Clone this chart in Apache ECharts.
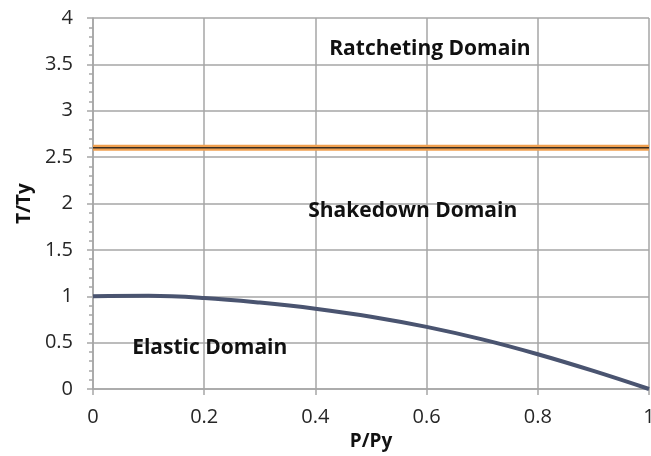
<!DOCTYPE html>
<html>
<head>
<meta charset="utf-8">
<script src="https://cdn.jsdelivr.net/npm/echarts@6/dist/echarts.min.js"></script>
<style>
  html, body { margin: 0; padding: 0; background: #fff; }
  #chart { width: 651px; height: 456px; }
</style>
</head>
<body>
<div id="chart"></div>
<script>
// elastic limit curve
const pValues = [0, 0.1, 0.2, 0.3, 0.4, 0.5, 0.6, 0.7, 0.8, 0.9, 1.0]
const tValues = [1.0, 1.005, 0.982, 0.932, 0.866, 0.78, 0.67, 0.535, 0.375, 0.195, 0.0]
// ratcheting limit
const ratchetX = [0, 1]
const ratchetLevel = 2.6
// domain labels [x, y, text]
const domainLabels = [
  [0.606, 3.67, 'Ratcheting Domain'],
  [0.575, 1.92, 'Shakedown Domain'],
  [0.21, 0.44, 'Elastic Domain']
]

const chart = echarts.init(document.getElementById('chart'))
const gridColor = '#a6a6a6'
const labelFont = { color: '#262626', fontSize: 20, fontFamily: 'Open Sans' }
const nameFont = { color: '#111', fontSize: 19, fontWeight: 'bold', fontFamily: 'Open Sans' }

chart.setOption({
  animation: false,
  grid: { left: 93, right: 2, top: 18, bottom: 67, outerBoundsMode: 'none' },
  xAxis: {
    type: 'value',
    min: 0,
    max: 1,
    interval: 0.2,
    name: 'P/Py',
    nameLocation: 'middle',
    nameGap: 40,
    nameTextStyle: nameFont,
    axisLine: { lineStyle: { color: gridColor, width: 1.5 } },
    axisTick: { show: true, length: 6, lineStyle: { color: gridColor, width: 1.5 } },
    axisLabel: Object.assign({ margin: 18, formatter: v => String(+v.toFixed(1)) }, labelFont),
    splitLine: { lineStyle: { color: gridColor, width: 1.5 } }
  },
  yAxis: {
    type: 'value',
    min: 0,
    max: 4,
    interval: 0.5,
    name: 'T/Ty',
    nameLocation: 'middle',
    nameGap: 56,
    nameTextStyle: nameFont,
    axisLine: { show: true, lineStyle: { color: gridColor, width: 1.5 } },
    axisTick: { show: true, length: 6, lineStyle: { color: gridColor, width: 1.5 } },
    minorTick: { show: true, splitNumber: 5, length: 4, lineStyle: { color: gridColor, width: 1.5 } },
    axisLabel: Object.assign({ margin: 20 }, labelFont),
    splitLine: { lineStyle: { color: gridColor, width: 1.5 } }
  },
  series: [
    {
      type: 'line',
      data: ratchetX.map(x => [x, ratchetLevel]),
      symbol: 'none',
      lineStyle: { color: '#f0a050', width: 6 },
      z: 3
    },
    {
      type: 'line',
      data: ratchetX.map(x => [x, ratchetLevel]),
      symbol: 'none',
      lineStyle: { color: '#3a2e22', width: 1.5 },
      z: 4
    },
    {
      type: 'line',
      data: pValues.map((p, i) => [p, tValues[i]]),
      smooth: 0.4,
      symbol: 'none',
      lineStyle: { color: '#4a5470', width: 4 },
      z: 5
    },
    {
      type: 'scatter',
      data: domainLabels.map(d => ({ value: [d[0], d[1]], name: d[2] })),
      symbolSize: 0,
      silent: true,
      z: 6,
      itemStyle: { opacity: 1 },
      label: {
        show: true,
        position: 'inside',
        formatter: p => p.name,
        color: '#111',
        opacity: 1,
        fontSize: 21,
        fontWeight: 'bold',
        fontFamily: 'Open Sans'
      }
    }
  ]
})
</script>
</body>
</html>
